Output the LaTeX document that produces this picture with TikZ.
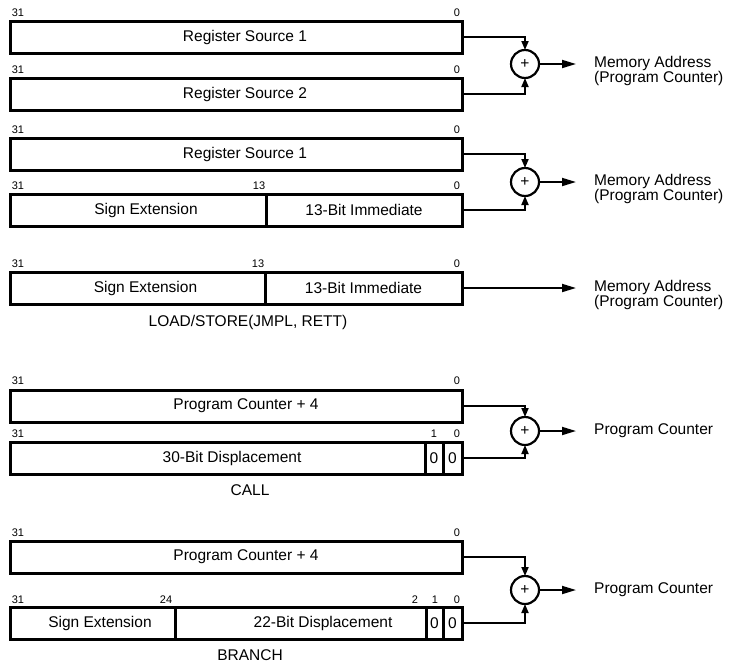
\documentclass[tikz,border=0pt]{standalone}
\usepackage{fontspec}
\setmainfont{Liberation Sans}
\usetikzlibrary{arrows.meta}
\newcommand{\bxfont}{\fontsize{15.5}{13}\selectfont}
\begin{document}
\begin{tikzpicture}[x=1pt,y=-1pt,
  reg/.style={draw, line width=3pt, minimum height=32pt, inner sep=0pt, outer sep=0pt, anchor=north west, font=\bxfont},
  bit/.style={font=\fontsize{11}{11}\selectfont, inner sep=0pt},
  adder/.style={circle, draw, line width=2.2pt, minimum size=28pt, inner sep=0pt, outer sep=0pt, font=\bxfont},
  conn/.style={line width=1.8pt},
  intip/.style={conn, -{Triangle[length=9pt,width=7pt]}},
  outtip/.style={conn, -{Triangle[length=14pt,width=8pt]}},
  outtxt/.style={font=\bxfont, anchor=west, align=left, inner sep=0pt},
  capt/.style={font=\bxfont, inner sep=0pt}
]
\useasboundingbox (0,0) rectangle (730,665);

% ---------- Row A ----------
\node[bit] (a31a) at (18,13) {31};
\node[bit] (a0a) at (457,13) {0};
\node[reg, minimum width=452pt] (b1) at (10,21) {\hspace*{18pt}Register Source 1};
\node[bit] (a31b) at (18,70) {31};
\node[bit] (a0b) at (457,70) {0};
\node[reg, minimum width=452pt] (b2) at (10,78) {\hspace*{18pt}Register Source 2};
\node[adder] (add1) at (525,64) {+};
\draw[intip] (b1.east) -| (add1.north);
\draw[intip] (b2.east) -| (add1.south);
\coordinate (o1) at (576,64);
\draw[outtip] (add1.east) -- (o1);
\node[outtxt] (t1) at (594,71) {Memory Address\\(Program Counter)};

% ---------- Row B ----------
\node[bit] (b31a) at (18,130) {31};
\node[bit] (b0a) at (457,130) {0};
\node[reg, minimum width=452pt] (b3) at (10,138) {\hspace*{18pt}Register Source 1};
\node[bit] (b31b) at (18,186) {31};
\node[bit] (b13b) at (259,186) {13};
\node[bit] (b0b) at (457,186) {0};
\node[reg, minimum width=256pt] (b4a) at (10,194) {\hspace*{16pt}Sign Extension};
\node[reg, minimum width=196pt] (b4b) at (266,194) {13-Bit Immediate};
\node[adder] (add2) at (525,182) {+};
\draw[intip] (b3.east) -| (add2.north);
\draw[intip] (b4b.east) -| (add2.south);
\coordinate (o2) at (576,182);
\draw[outtip] (add2.east) -- (o2);
\node[outtxt] (t2) at (594,189) {Memory Address\\(Program Counter)};

% ---------- Row C ----------
\node[bit] (c31) at (18,264) {31};
\node[bit] (c13) at (258,264) {13};
\node[bit] (c0) at (457,264) {0};
\node[reg, minimum width=255pt] (b5a) at (10,272) {\hspace*{16pt}Sign Extension};
\node[reg, minimum width=197pt] (b5b) at (265,272) {13-Bit Immediate};
\coordinate (o3) at (576,288);
\draw[outtip] (b5b.east) -- (o3);
\node[outtxt] (t3) at (594,295) {Memory Address\\(Program Counter)};
\node[capt] (cap3) at (248,322) {LOAD/STORE(JMPL, RETT)};

% ---------- Row D (CALL) ----------
\node[bit] (d31a) at (18,381) {31};
\node[bit] (d0a) at (457,381) {0};
\node[reg, minimum width=452pt] (b6) at (10,390) {\hspace*{20pt}Program Counter + 4};
\node[bit] (d31b) at (18,434) {31};
\node[bit] (d1b) at (434,434) {1};
\node[bit] (d0b) at (457,434) {0};
\node[reg, minimum width=415pt] (b7a) at (10,442) {\hspace*{29pt}30-Bit Displacement};
\node[reg, minimum width=18pt] (b7b) at (425,442) {0};
\node[reg, minimum width=19pt] (b7c) at (443,442) {0};
\node[adder] (add4) at (525,431) {+};
\draw[intip] (b6.east) -| (add4.north);
\draw[intip] (b7c.east) -| (add4.south);
\coordinate (o4) at (576,431);
\draw[outtip] (add4.east) -- (o4);
\node[outtxt] (t4) at (594,431) {Program Counter};
\node[capt] (cap4) at (250,490) {CALL};

% ---------- Row E (BRANCH) ----------
\node[bit] (e31a) at (18,533) {31};
\node[bit] (e0a) at (457,533) {0};
\node[reg, minimum width=452pt] (b8) at (10,541) {\hspace*{20pt}Program Counter + 4};
\node[bit] (e31b) at (18,600) {31};
\node[bit] (e24b) at (166,600) {24};
\node[bit] (e2b) at (415,600) {2};
\node[bit] (e1b) at (435,600) {1};
\node[bit] (e0b) at (457,600) {0};
\node[reg, minimum width=165pt] (b9a) at (10,607) {\hspace*{15pt}Sign Extension};
\node[reg, minimum width=251pt] (b9b) at (175,607) {\hspace*{45pt}22-Bit Displacement};
\node[reg, minimum width=17pt] (b9c) at (426,607) {0};
\node[reg, minimum width=19pt] (b9d) at (443,607) {0};
\node[adder] (add5) at (525,590) {+};
\draw[intip] (b8.east) -| (add5.north);
\draw[intip] (b9d.east) -| (add5.south);
\coordinate (o5) at (576,590);
\draw[outtip] (add5.east) -- (o5);
\node[outtxt] (t5) at (594,590) {Program Counter};
\node[capt] (cap5) at (250,655) {BRANCH};
\end{tikzpicture}
\end{document}
